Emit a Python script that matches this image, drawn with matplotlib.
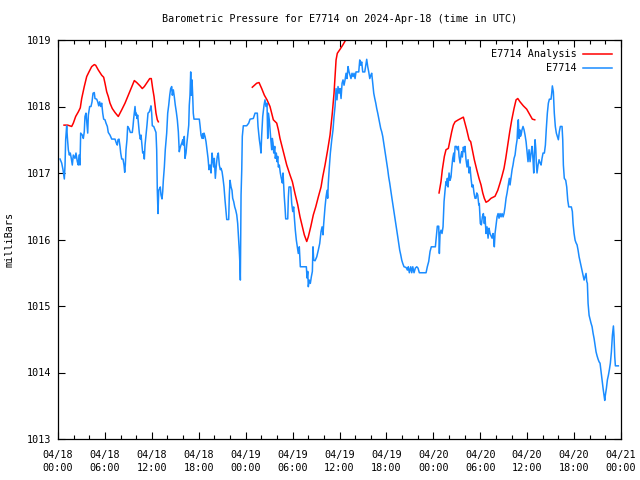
import numpy as np
import matplotlib
matplotlib.use('Agg')
import matplotlib.pyplot as plt
from matplotlib.ticker import MultipleLocator

# hours since 2024-04-18 00:00 UTC, pressure in mbar
obs_hours = [
    0.26, 0.47, 0.64, 0.81, 0.90, 0.98, 1.11, 1.19, 1.32, 1.45, 1.57, 1.70, 1.83, 1.96, 2.17, 2.30,
    2.47, 2.60, 2.69, 2.81, 2.90, 3.11, 3.24, 3.36, 3.45, 3.58, 3.71, 3.80, 3.88, 4.05, 4.22, 4.35,
    4.48, 4.64, 4.73, 4.95, 5.08, 5.21, 5.33, 5.46, 5.59, 5.72, 5.84, 6.01, 6.14, 6.31, 6.43, 6.65,
    6.87, 7.29, 7.46, 7.58, 7.67, 7.80, 7.93, 8.02, 8.15, 8.31, 8.44, 8.53, 8.61, 8.70, 8.82, 8.91,
    9.08, 9.25, 9.50, 9.59, 9.68, 9.76, 9.85, 9.94, 10.01, 10.10, 10.19, 10.27, 10.40, 10.53, 10.62, 10.74,
    10.83, 10.96, 11.04, 11.13, 11.26, 11.38, 11.51, 11.68, 11.81, 11.89, 11.98, 12.06, 12.24, 12.37, 12.53, 12.62,
    12.70, 12.79, 12.88, 13.01, 13.08, 13.17, 13.30, 13.39, 13.47, 13.60, 13.72, 13.90, 14.03, 14.16, 14.29, 14.41,
    14.54, 14.62, 14.75, 14.87, 15.00, 15.13, 15.26, 15.39, 15.51, 15.60, 15.73, 15.86, 15.95, 16.03, 16.15, 16.24,
    16.37, 16.46, 16.59, 16.72, 16.79, 16.88, 16.97, 17.05, 17.14, 17.23, 17.30, 17.39, 18.07, 18.16, 18.29, 18.42,
    18.51, 18.58, 18.67, 18.80, 18.93, 19.06, 19.19, 19.31, 19.44, 19.57, 19.70, 19.82, 19.91, 19.99, 20.12, 20.25,
    20.37, 20.50, 20.63, 20.76, 20.85, 20.98, 21.10, 21.23, 21.36, 21.49, 21.58, 21.83, 21.91, 22.00, 22.13, 22.25,
    22.34, 22.47, 22.60, 22.73, 22.86, 22.98, 23.11, 23.19, 23.28, 23.32, 23.41, 23.50, 23.57, 23.70, 24.13, 24.26,
    24.39, 24.56, 24.98, 25.20, 25.49, 25.58, 25.67, 25.75, 25.87, 25.96, 26.05, 26.18, 26.35, 26.47, 26.60, 26.73,
    26.82, 26.90, 27.02, 27.15, 27.24, 27.33, 27.41, 27.50, 27.59, 27.72, 27.79, 27.92, 28.01, 28.10, 28.18, 28.30,
    28.43, 28.56, 28.69, 28.78, 28.87, 28.94, 29.03, 29.12, 29.38, 29.46, 29.54, 29.76, 29.89, 30.02, 30.14, 30.22,
    30.35, 30.48, 30.61, 30.73, 30.86, 30.99, 31.76, 31.85, 31.94, 32.01, 32.14, 32.27, 32.40, 32.53, 32.61, 32.70,
    32.87, 33.09, 33.29, 33.47, 33.64, 33.77, 33.89, 33.98, 34.15, 34.28, 34.41, 34.49, 34.57, 34.70, 34.83, 35.01,
    35.17, 35.30, 35.43, 35.56, 35.68, 35.81, 35.94, 36.07, 36.20, 36.33, 36.45, 36.58, 36.71, 36.84, 36.96, 37.09,
    37.22, 37.35, 37.47, 37.60, 37.73, 37.86, 37.99, 38.11, 38.46, 38.59, 38.72, 38.84, 38.97, 39.23, 39.36, 39.48,
    39.61, 39.74, 39.87, 40.00, 40.12, 40.25, 40.38, 40.51, 40.64, 40.76, 40.89, 41.02, 41.14, 41.27, 41.40, 41.53,
    41.66, 41.78, 41.91, 42.04, 42.17, 42.29, 42.42, 42.55, 42.68, 42.81, 42.93, 43.06, 43.19, 43.32, 43.45, 43.57,
    43.70, 43.83, 43.96, 44.09, 44.25, 44.51, 44.68, 44.80, 44.93, 45.11, 45.24, 45.37, 45.53, 45.70, 45.88, 46.04,
    46.21, 47.07, 47.23, 47.41, 47.58, 47.74, 48.26, 48.38, 48.51, 48.69, 48.77, 48.86, 48.98, 49.11, 49.24, 49.37,
    49.50, 49.62, 49.71, 49.79, 49.88, 50.01, 50.14, 50.26, 50.35, 50.48, 50.61, 50.68, 50.78, 50.94, 51.07, 51.20,
    51.29, 51.42, 51.54, 51.63, 51.71, 51.84, 51.97, 52.05, 52.18, 52.31, 52.44, 52.57, 52.69, 52.82, 52.95, 53.08,
    53.20, 53.33, 53.46, 53.55, 53.68, 53.81, 53.88, 54.01, 54.14, 54.27, 54.40, 54.52, 54.61, 54.74, 54.87, 55.00,
    55.12, 55.25, 55.51, 55.64, 55.73, 55.80, 55.89, 56.02, 56.15, 56.28, 56.40, 56.53, 56.66, 56.79, 56.92, 57.04,
    57.17, 57.30, 57.43, 57.59, 57.72, 57.81, 57.94, 58.07, 58.19, 58.32, 58.45, 58.58, 58.71, 58.80, 58.87, 58.96,
    59.05, 59.13, 59.22, 59.34, 59.47, 59.60, 59.73, 59.86, 59.98, 60.11, 60.24, 60.37, 60.50, 60.62, 60.75, 60.84,
    60.92, 61.01, 61.10, 61.17, 61.26, 61.39, 61.52, 61.65, 61.78, 61.90, 62.03, 62.20, 62.33, 62.45, 62.58, 62.71,
    62.84, 63.05, 63.14, 63.22, 63.35, 63.47, 63.60, 63.73, 63.86, 63.99, 64.11, 64.24, 64.46, 64.55, 64.63, 64.75,
    64.93, 65.06, 65.19, 65.32, 65.65, 65.78, 65.87, 66.00, 66.13, 66.25, 66.38, 66.51, 66.64, 66.77, 66.89, 67.02,
    67.15, 67.28, 67.40, 67.53, 67.62, 67.70, 67.79, 67.92, 68.04, 68.17, 68.30, 68.43, 68.56, 68.68, 68.81, 68.94,
    69.07, 69.20, 69.32, 69.45, 69.58, 69.71, 69.83, 69.92, 70.00, 70.13, 70.26, 70.39, 70.51, 70.64, 70.77, 70.90,
    71.03, 71.11, 71.20, 71.28, 71.66,
]
obs_mb = [
    1017.21, 1017.15, 1017.05, 1016.91, 1017.12, 1017.50, 1017.71, 1017.55, 1017.35, 1017.27, 1017.30, 1017.22, 1017.12, 1017.27, 1017.22, 1017.30,
    1017.17, 1017.12, 1017.27, 1017.12, 1017.60, 1017.57, 1017.52, 1017.62, 1017.85, 1017.90, 1017.72, 1017.60, 1017.87, 1018.00, 1018.00, 1018.07,
    1018.20, 1018.21, 1018.12, 1018.11, 1018.07, 1018.01, 1018.07, 1018.00, 1018.05, 1017.90, 1017.81, 1017.80, 1017.75, 1017.70, 1017.61, 1017.57,
    1017.51, 1017.51, 1017.45, 1017.42, 1017.50, 1017.51, 1017.40, 1017.30, 1017.21, 1017.21, 1017.12, 1017.01, 1017.12, 1017.35, 1017.50, 1017.70,
    1017.67, 1017.61, 1017.61, 1017.70, 1017.82, 1017.90, 1018.00, 1017.87, 1017.90, 1017.82, 1017.87, 1017.77, 1017.60, 1017.51, 1017.57, 1017.42,
    1017.30, 1017.32, 1017.21, 1017.42, 1017.57, 1017.72, 1017.90, 1017.92, 1017.97, 1018.01, 1017.90, 1017.71, 1017.70, 1017.66, 1017.61, 1017.35,
    1016.74, 1016.39, 1016.74, 1016.77, 1016.79, 1016.67, 1016.61, 1016.72, 1016.89, 1017.09, 1017.35, 1017.60, 1017.90, 1018.02, 1018.17, 1018.27,
    1018.30, 1018.17, 1018.25, 1018.15, 1018.02, 1017.92, 1017.80, 1017.62, 1017.32, 1017.37, 1017.42, 1017.46, 1017.50, 1017.42, 1017.55, 1017.22,
    1017.30, 1017.42, 1017.57, 1017.72, 1018.02, 1018.17, 1018.52, 1018.17, 1018.40, 1018.15, 1017.90, 1017.81, 1017.81, 1017.72, 1017.57, 1017.52,
    1017.59, 1017.52, 1017.60, 1017.55, 1017.47, 1017.35, 1017.22, 1017.05, 1017.12, 1017.00, 1017.30, 1017.17, 1017.09, 1017.22, 1016.92, 1017.12,
    1017.25, 1017.30, 1017.12, 1017.05, 1017.07, 1017.02, 1016.92, 1016.79, 1016.59, 1016.42, 1016.30, 1016.30, 1016.67, 1016.89, 1016.79, 1016.74,
    1016.62, 1016.57, 1016.49, 1016.44, 1016.37, 1016.24, 1015.99, 1015.82, 1015.59, 1015.39, 1016.67, 1017.05, 1017.55, 1017.71, 1017.71, 1017.73,
    1017.75, 1017.81, 1017.82, 1017.90, 1017.90, 1017.70, 1017.60, 1017.50, 1017.40, 1017.30, 1017.57, 1017.85, 1018.02, 1018.10, 1018.00, 1018.05,
    1017.52, 1017.90, 1017.80, 1017.60, 1017.47, 1017.35, 1017.52, 1017.45, 1017.30, 1017.40, 1017.22, 1017.30, 1017.17, 1017.25, 1017.09, 1017.12,
    1017.00, 1016.92, 1016.85, 1017.00, 1016.79, 1016.64, 1016.49, 1016.31, 1016.31, 1016.64, 1016.79, 1016.79, 1016.54, 1016.42, 1016.49, 1016.34,
    1016.14, 1015.99, 1015.89, 1015.79, 1015.89, 1015.59, 1015.59, 1015.42, 1015.52, 1015.29, 1015.39, 1015.34, 1015.44, 1015.52, 1015.89, 1015.69,
    1015.68, 1015.74, 1015.84, 1015.94, 1016.12, 1016.19, 1016.07, 1016.24, 1016.49, 1016.64, 1016.74, 1016.62, 1016.85, 1017.09, 1017.30, 1017.50,
    1017.65, 1017.85, 1018.00, 1018.27, 1018.10, 1018.30, 1018.20, 1018.27, 1018.12, 1018.35, 1018.40, 1018.32, 1018.40, 1018.50, 1018.42, 1018.60,
    1018.52, 1018.47, 1018.42, 1018.50, 1018.45, 1018.50, 1018.42, 1018.52, 1018.52, 1018.70, 1018.62, 1018.67, 1018.52, 1018.52, 1018.62, 1018.71,
    1018.60, 1018.52, 1018.42, 1018.47, 1018.50, 1018.35, 1018.20, 1018.12, 1018.05, 1017.97, 1017.90, 1017.82, 1017.75, 1017.67, 1017.62, 1017.55,
    1017.45, 1017.35, 1017.25, 1017.15, 1017.05, 1016.94, 1016.85, 1016.74, 1016.64, 1016.54, 1016.44, 1016.34, 1016.24, 1016.14, 1016.04, 1015.94,
    1015.84, 1015.77, 1015.69, 1015.64, 1015.59, 1015.58, 1015.54, 1015.59, 1015.50, 1015.59, 1015.50, 1015.59, 1015.50, 1015.57, 1015.59, 1015.57,
    1015.50, 1015.50, 1015.59, 1015.67, 1015.82, 1015.89, 1015.89, 1016.04, 1016.20, 1016.20, 1015.79, 1016.09, 1016.14, 1016.09, 1016.19, 1016.57,
    1016.74, 1016.87, 1016.82, 1016.92, 1016.79, 1017.00, 1016.89, 1016.94, 1017.07, 1017.22, 1017.30, 1017.17, 1017.40, 1017.40, 1017.35, 1017.40,
    1017.25, 1017.15, 1017.27, 1017.32, 1017.24, 1017.39, 1017.32, 1017.40, 1017.20, 1017.09, 1017.20, 1017.00, 1017.09, 1016.92, 1016.79, 1016.82,
    1016.70, 1016.62, 1016.62, 1016.70, 1016.67, 1016.52, 1016.54, 1016.24, 1016.22, 1016.34, 1016.39, 1016.24, 1016.34, 1016.09, 1016.19, 1016.02,
    1016.17, 1016.09, 1016.02, 1016.09, 1015.99, 1015.89, 1016.09, 1016.22, 1016.34, 1016.39, 1016.32, 1016.39, 1016.34, 1016.39, 1016.34, 1016.39,
    1016.49, 1016.62, 1016.70, 1016.82, 1016.92, 1016.82, 1016.94, 1017.05, 1017.12, 1017.22, 1017.27, 1017.40, 1017.50, 1017.72, 1017.80, 1017.52,
    1017.65, 1017.55, 1017.57, 1017.65, 1017.70, 1017.65, 1017.57, 1017.47, 1017.32, 1017.17, 1017.35, 1017.17, 1017.30, 1017.40, 1017.20, 1017.00,
    1017.30, 1017.50, 1017.37, 1017.15, 1017.00, 1017.12, 1017.20, 1017.15, 1017.12, 1017.22, 1017.30, 1017.30, 1017.42, 1017.67, 1017.90, 1018.05,
    1018.11, 1018.11, 1018.20, 1018.31, 1018.22, 1017.90, 1017.70, 1017.60, 1017.55, 1017.50, 1017.62, 1017.70, 1017.70, 1017.50, 1017.12, 1016.92,
    1016.89, 1016.79, 1016.59, 1016.49, 1016.49, 1016.42, 1016.24, 1016.09, 1015.99, 1015.95, 1015.92, 1015.84, 1015.74, 1015.67, 1015.60, 1015.54,
    1015.47, 1015.39, 1015.44, 1015.49, 1015.37, 1015.34, 1015.04, 1014.86, 1014.80, 1014.74, 1014.69, 1014.59, 1014.51, 1014.41, 1014.31, 1014.25,
    1014.20, 1014.16, 1014.14, 1014.01, 1013.89, 1013.76, 1013.66, 1013.58, 1013.66, 1013.76, 1013.89, 1013.96, 1014.04, 1014.14, 1014.31, 1014.56,
    1014.70, 1014.54, 1014.24, 1014.10, 1014.10,
]

# analysis curve, three separate pieces
ana_hours_1 = [0.77, 1.24, 1.75, 1.96, 2.26, 2.60, 2.85, 3.03, 3.36, 3.67, 3.96, 4.31, 4.64, 4.82, 5.15, 5.59,
               5.84, 6.01, 6.23, 6.43, 6.65, 6.94, 7.29, 7.71, 8.15, 8.57, 8.99, 9.43, 9.76, 10.07, 10.49, 10.78,
               11.04, 11.38, 11.73, 11.93, 12.11, 12.28, 12.41, 12.53, 12.70, 12.83]
ana_mb_1 = [1017.72, 1017.72, 1017.70, 1017.75, 1017.85, 1017.92, 1017.98, 1018.12, 1018.30, 1018.45, 1018.52,
            1018.60, 1018.63, 1018.62, 1018.55, 1018.47, 1018.44, 1018.35, 1018.22, 1018.15, 1018.05, 1017.97,
            1017.91, 1017.85, 1017.95, 1018.05, 1018.17, 1018.30, 1018.39, 1018.36, 1018.31, 1018.27, 1018.30,
            1018.36, 1018.42, 1018.42, 1018.27, 1018.15, 1018.02, 1017.90, 1017.80, 1017.77]
ana_hours_2 = [24.85, 25.41, 25.71, 26.05, 26.39, 26.73, 27.11, 27.54, 27.97, 28.18, 28.39, 28.82, 29.25, 29.67,
               29.97, 30.31, 30.66, 30.95, 31.25, 31.50, 31.81, 32.01, 32.32, 32.65, 32.96, 33.29, 33.64, 33.85,
               34.15, 34.49, 34.79, 35.08, 35.30, 35.56, 35.72, 36.07, 36.45, 36.84, 37.35, 38.11]
ana_mb_2 = [1018.29, 1018.35, 1018.36, 1018.27, 1018.17, 1018.10, 1018.00, 1017.80, 1017.75, 1017.65, 1017.52,
            1017.32, 1017.12, 1016.97, 1016.87, 1016.69, 1016.52, 1016.34, 1016.19, 1016.07, 1015.97, 1016.04,
            1016.19, 1016.37, 1016.49, 1016.64, 1016.79, 1016.94, 1017.12, 1017.35, 1017.57, 1017.90, 1018.20,
            1018.70, 1018.80, 1018.86, 1018.93, 1019.01, 1019.08, 1019.15]
ana_hours_3 = [48.73, 48.98, 49.15, 49.41, 49.62, 49.92, 50.14, 50.35, 50.56, 50.78, 51.20, 51.84, 52.05, 52.27,
               52.57, 52.78, 52.99, 53.24, 53.55, 53.84, 54.10, 54.32, 54.52, 54.74, 55.03, 55.38, 55.89, 56.24,
               56.53, 56.75, 57.04, 57.26, 57.52, 57.77, 58.03, 58.32, 58.58, 58.80, 59.09, 59.51, 59.94, 60.37,
               60.66, 60.97]
ana_mb_3 = [1016.70, 1016.87, 1017.05, 1017.25, 1017.35, 1017.37, 1017.50, 1017.62, 1017.72, 1017.77, 1017.80,
            1017.84, 1017.75, 1017.65, 1017.50, 1017.47, 1017.35, 1017.20, 1017.05, 1016.92, 1016.82, 1016.70,
            1016.62, 1016.56, 1016.58, 1016.62, 1016.65, 1016.74, 1016.85, 1016.94, 1017.07, 1017.22, 1017.42,
            1017.62, 1017.80, 1017.97, 1018.10, 1018.12, 1018.07, 1018.01, 1017.96, 1017.87, 1017.81, 1017.80]

tick_hours = list(range(0, 73, 6))
tick_labels = ['04/18\n00:00', '04/18\n06:00', '04/18\n12:00', '04/18\n18:00',
               '04/19\n00:00', '04/19\n06:00', '04/19\n12:00', '04/19\n18:00',
               '04/20\n00:00', '04/20\n06:00', '04/20\n12:00', '04/20\n18:00',
               '04/21\n00:00']

plt.rcParams['font.family'] = ['DejaVu Sans Mono']
fs = 7.3

fig = plt.figure(figsize=(6.4, 4.8), dpi=100)
ax = fig.add_axes([58/640, 1 - 439/480, 563/640, 399/480])

red = '#ff0000'
blue = '#1a8cff'

ana_h = ana_hours_1 + [np.nan] + ana_hours_2 + [np.nan] + ana_hours_3
ana_v = ana_mb_1 + [np.nan] + ana_mb_2 + [np.nan] + ana_mb_3
ax.plot(ana_h, ana_v, color=red, lw=1.1, label='E7714 Analysis')
ax.plot(obs_hours, obs_mb, color=blue, lw=1.1, label='E7714')

ax.set_xlim(0, 72)
ax.set_ylim(1013, 1019)
ax.set_xticks(tick_hours)
ax.set_xticklabels(tick_labels, fontsize=fs, linespacing=1.35)
ax.xaxis.set_minor_locator(MultipleLocator(2))
ax.yaxis.set_major_locator(MultipleLocator(1))
ax.tick_params(axis='both', which='major', direction='in', length=5, width=0.8,
               top=True, right=True, labelsize=fs, pad=5)
ax.tick_params(axis='x', which='major', pad=8)
ax.tick_params(axis='x', which='minor', direction='in', length=3, width=0.8, top=True)
for s in ax.spines.values():
    s.set_linewidth(0.9)

ax.set_title('Barometric Pressure for E7714 on 2024-Apr-18 (time in UTC)', fontsize=fs, pad=13)
ax.set_ylabel('milliBars', fontsize=fs, labelpad=9)

ax.legend(loc='upper right', frameon=False, fontsize=fs, markerfirst=False,
          handlelength=2.8, handletextpad=0.7, labelspacing=0.4,
          borderaxespad=0.6, borderpad=0.3)

fig.savefig('out.png', dpi=100)
